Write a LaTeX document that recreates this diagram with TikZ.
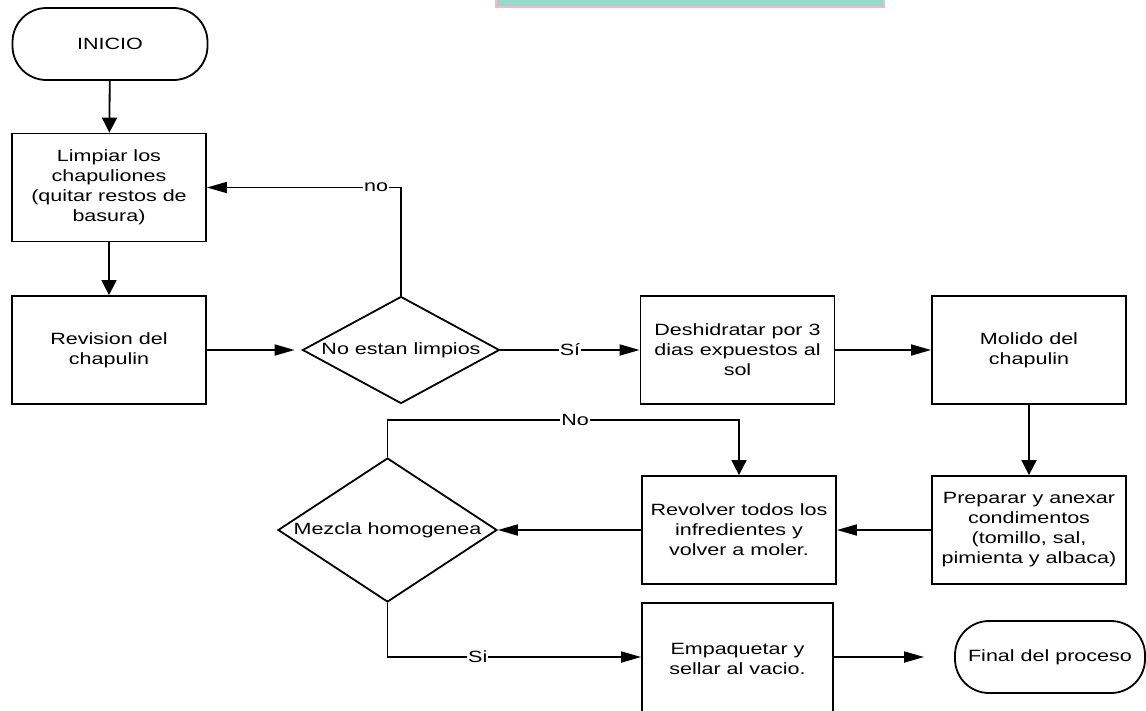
\documentclass[tikz,border=0pt]{standalone}
\usepackage{fontspec}
\setmainfont{Liberation Sans}[FakeStretch=1.32]
\usetikzlibrary{shapes.geometric,arrows.meta}
\definecolor{aqua}{HTML}{9AD8CC}
\definecolor{rosa}{HTML}{F4B8C9}

\begin{document}
\begin{tikzpicture}[x=1pt, y=-1pt, line width=1.8pt]
	\tikzstyle{every node} = [font=\fontsize{16.3}{20}\selectfont, align=center]
	\tikzstyle{paso} = [draw, rectangle, minimum width=194pt, minimum height=108pt, inner sep=0pt]
	\tikzstyle{decision} = [draw, diamond, inner sep=0pt]
	\tikzstyle{terminal} = [draw, rectangle, rounded corners=34pt, minimum height=72pt]
	\tikzstyle{etiqueta} = [fill=white, inner sep=1pt]
	\tikzstyle{flecha} = [-{Triangle[length=20pt, width=11pt]}]
	\tikzstyle{flechav} = [-{Triangle[length=15pt, width=15pt]}]
	\useasboundingbox (0,0) rectangle (1146,710);
	% banda de titulo
	\draw[draw=rosa, fill=aqua, line width=2pt] (496,-5) rectangle (884,7);
	\node[terminal, minimum width=195pt] (inicio) at (110,44) {INICIO};
	\node[paso] (limpiar) at (109,187.5) {Limpiar los\\chapuliones\\(quitar restos de\\basura)};
	\node[paso] (revision) at (109,350) {Revision del\\chapulin};
	\node[decision, aspect=1.84, minimum width=197pt, minimum height=107pt] (limpios) at (401,350) {No estan limpios};
	\node[paso] (deshidratar) at (737.5,350) {Deshidratar por 3\\dias expuestos al\\sol};
	\node[paso] (molido) at (1029,350) {Molido del\\chapulin};
	\node[paso] (preparar) at (1029,530) {Preparar y anexar\\condimentos\\(tomillo, sal,\\pimienta y albaca)};
	\node[paso] (revolver) at (739,530) {Revolver todos los\\infredientes y\\volver a moler.};
	\node[decision, aspect=1.52, minimum width=219pt, minimum height=144pt] (mezcla) at (387.5,530) {Mezcla homogenea};
	\node[paso, minimum width=191pt, minimum height=112pt, text depth=0pt] (empaquetar) at (737.5,659) {Empaquetar y\\sellar al vacio.};
	\node[terminal, minimum width=190pt] (final) at (1050,657) {Final del proceso};
	\draw [flechav] (inicio)--(limpiar);
	\draw [flechav] (limpiar)--(revision);
	\draw [flecha, shorten >=7pt] (revision)--(limpios);
	\draw [flecha] (limpios.north) |- node[etiqueta, pos=0.564] {no} (limpiar.east);
	\draw [flecha] (limpios)-- node[etiqueta] {Sí} (deshidratar);
	\draw [flecha] (deshidratar)--(molido);
	\draw [flechav] (molido)--(preparar);
	\draw [flecha] (preparar)--(revolver);
	\draw [flecha] (revolver)--(mezcla);
	\draw [flechav] (mezcla.north) -- ++(0,-37) -| node[etiqueta, pos=0.267] {No} (revolver.north);
	\draw [flecha] (mezcla.south) |- node[etiqueta, pos=0.678] {Si} (empaquetar.west |- final.west);
	\draw [flecha, shorten >=30pt] (empaquetar.east |- final.west)--(final);
\end{tikzpicture}
\end{document}
